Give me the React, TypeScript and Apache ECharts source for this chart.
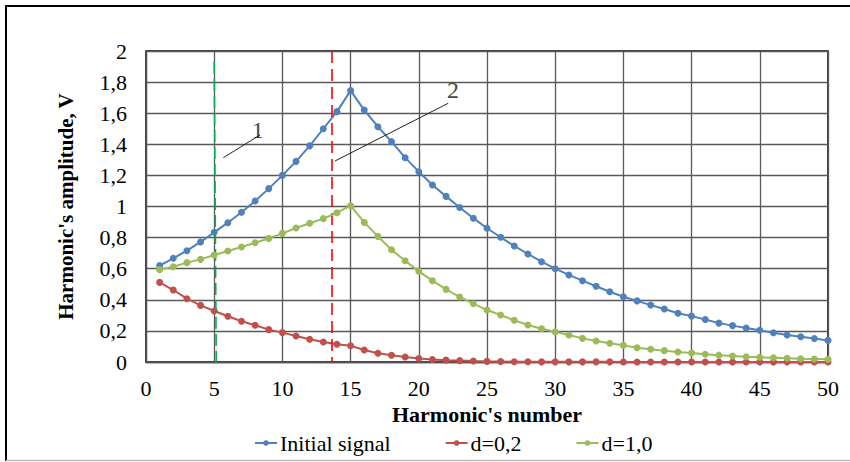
import React, { useEffect, useRef } from "react";
import * as echarts from "echarts";

const harmonics: number[] = Array.from({ length: 50 }, (_, i) => i + 1);

const initialSignal: number[] = [
  0.62, 0.667, 0.716, 0.772, 0.834, 0.896, 0.963, 1.035, 1.115, 1.2,
  1.29, 1.39, 1.5, 1.61, 1.745, 1.62, 1.513, 1.417, 1.314, 1.224,
  1.138, 1.065, 0.994, 0.925, 0.86, 0.802, 0.746, 0.695, 0.645, 0.6,
  0.56, 0.523, 0.487, 0.452, 0.42, 0.393, 0.366, 0.341, 0.314, 0.295,
  0.273, 0.25, 0.234, 0.219, 0.204, 0.188, 0.174, 0.162, 0.151, 0.139,
];

const d02: number[] = [
  0.512, 0.463, 0.407, 0.364, 0.328, 0.294, 0.262, 0.236, 0.208, 0.189,
  0.167, 0.146, 0.129, 0.114, 0.105, 0.077, 0.056, 0.043, 0.032, 0.022,
  0.016, 0.012, 0.009, 0.006, 0.004, 0.003, 0.002, 0.002, 0.001, 0.001,
  0.001, 0.001, 0.001, 0.001, 0, 0, 0, 0, 0, 0,
  0, 0, 0, 0, 0, 0, 0, 0, 0, 0,
];

const d10: number[] = [
  0.594, 0.613, 0.639, 0.66, 0.688, 0.714, 0.74, 0.767, 0.795, 0.827,
  0.862, 0.892, 0.922, 0.96, 1.005, 0.898, 0.808, 0.722, 0.651, 0.583,
  0.523, 0.467, 0.418, 0.375, 0.334, 0.302, 0.268, 0.238, 0.214, 0.194,
  0.174, 0.152, 0.135, 0.12, 0.107, 0.092, 0.082, 0.073, 0.064, 0.058,
  0.05, 0.044, 0.039, 0.034, 0.03, 0.027, 0.024, 0.021, 0.019, 0.017,
];

const seriesNames: string[] = ["Initial signal", "d=0,2", "d=1,0"];
const seriesColors: string[] = ["#4F81BD", "#C0504D", "#9BBB59"];

// annotation marks (data coordinates)
const greenMarker: number[][] = [[5.0, 1.93], [5.15, 0]];
const redMarker: number[][] = [[13.65, 2], [13.65, 0]];
const leader1: number[][] = [[5.67, 1.314], [8.36, 1.46]];
const leader2: number[][] = [[13.86, 1.293], [22.16, 1.664]];
const labelPoints: { text: string; pos: number[] }[] = [
  { text: "1", pos: [8.2, 1.49] },
  { text: "2", pos: [22.5, 1.75] },
];

const FONT = "'Liberation Serif', 'Times New Roman', serif";

export default function App() {
  const ref = useRef<HTMLDivElement>(null);

  useEffect(() => {
    document.body.style.margin = "0";
    if (!ref.current) return;
    const chart = echarts.init(ref.current, undefined, { renderer: "svg" });

    const dataSeries = [initialSignal, d02, d10].map((vals, idx) => ({
      name: seriesNames[idx],
      type: "line" as const,
      data: harmonics.map((h, i) => [h, vals[i]]),
      symbol: "circle",
      symbolSize: 7,
      showSymbol: true,
      lineStyle: { width: 2, color: seriesColors[idx] },
      itemStyle: { color: seriesColors[idx] },
      z: 3 + idx,
    }));

    const seg = (pts: number[][], color: string, width: number, type: any) => [
      {
        coord: pts[0],
        lineStyle: { color, width, type },
      },
      { coord: pts[1] },
    ];

    const option: any = {
      animation: false,
      backgroundColor: "#ffffff",
      textStyle: { fontFamily: FONT },
      grid: {
        left: 146,
        right: 22,
        top: 51,
        bottom: 100,
        show: true,
        borderColor: "#000",
        borderWidth: 1.5,
        backgroundColor: "transparent",
      },
      legend: {
        data: seriesNames,
        left: 249,
        top: 427,
        itemWidth: 22,
        itemHeight: 7,
        itemGap: 54,
        textStyle: { fontFamily: FONT, fontSize: 22, color: "#000", padding: [0, 0, 0, -2] },
      },
      xAxis: {
        type: "value",
        min: 0,
        max: 50,
        interval: 5,
        name: "Harmonic's number",
        nameLocation: "middle",
        nameGap: 35,
        nameTextStyle: { fontFamily: FONT, fontSize: 22, fontWeight: "bold", color: "#000" },
        axisLine: { show: true, lineStyle: { color: "#555", width: 1.3 } },
        axisTick: { show: false },
        axisLabel: { fontFamily: FONT, fontSize: 22, color: "#000", margin: 15 },
        splitLine: { show: true, lineStyle: { color: "#595959", width: 1.3 } },
      },
      yAxis: {
        type: "value",
        min: 0,
        max: 2,
        interval: 0.2,
        name: "Harmonic's amplitude, V",
        nameLocation: "middle",
        nameGap: 70,
        nameTextStyle: { fontFamily: FONT, fontSize: 21, fontWeight: "bold", color: "#000" },
        axisLine: { show: true, lineStyle: { color: "#555", width: 1.3 } },
        axisTick: { show: false },
        axisLabel: {
          fontFamily: FONT,
          fontSize: 22,
          color: "#000",
          margin: 19,
          formatter: (v: number) => String(Number(v.toFixed(1))).replace(".", ","),
        },
        splitLine: { show: true, lineStyle: { color: "#595959", width: 1.3 } },
      },
      series: [
        ...dataSeries,
        {
          name: "annotations",
          type: "scatter",
          data: labelPoints.map((p) => ({ value: p.pos, label: { formatter: p.text } })),
          symbolSize: 1,
          itemStyle: { color: "transparent" },
          label: {
            show: true,
            position: "inside",
            fontFamily: FONT,
            fontSize: 24,
            color: "#111",
          },
          silent: true,
          z: 10,
          markLine: {
            silent: true,
            symbol: ["none", "none"],
            label: { show: false },
            emphasis: { disabled: true },
            data: [
              seg(greenMarker, "#00B050", 1.6, [12, 5]),
              seg(redMarker, "#FF0000", 1.6, [12, 6]),
              seg(leader1, "#222", 1, "solid"),
              seg(leader2, "#222", 1, "solid"),
            ],
          },
        },
      ],
      graphic: [
        { type: "line", shape: { x1: 6, y1: 6, x2: 6, y2: 461 }, style: { stroke: "#000", lineWidth: 2 } },
        { type: "line", shape: { x1: 5, y1: 6, x2: 850, y2: 6 }, style: { stroke: "#000", lineWidth: 2 } },
        { type: "line", shape: { x1: 6, y1: 460.5, x2: 850, y2: 460.5 }, style: { stroke: "#bbb", lineWidth: 1.5 } },
      ],
    };

    chart.setOption(option);
    return () => chart.dispose();
  }, []);

  return (
    <div
      ref={ref}
      style={{ position: "absolute", left: 0, top: 0, width: 850, height: 462 }}
    />
  );
}
